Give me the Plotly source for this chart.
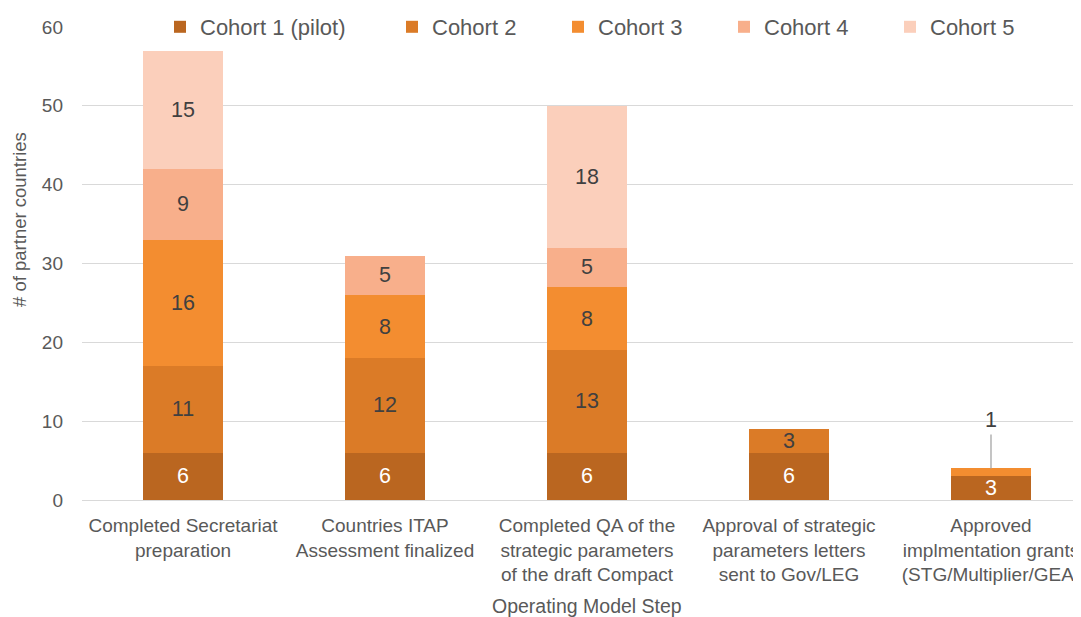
import plotly.graph_objects as go

categories = [
    "Completed Secretariat<br>preparation",
    "Countries ITAP<br>Assessment finalized",
    "Completed QA of the<br>strategic parameters<br>of the draft Compact",
    "Approval of strategic<br>parameters letters<br>sent to Gov/LEG",
    "Approved<br>implmentation grants<br>(STG/Multiplier/GEA)",
]
series_names = ["Cohort 1 (pilot)", "Cohort 2", "Cohort 3", "Cohort 4", "Cohort 5"]
cohort1 = [6, 6, 6, 6, 3]
cohort2 = [11, 12, 13, 3, 0]
cohort3 = [16, 8, 8, 0, 1]
cohort4 = [9, 5, 5, 0, 0]
cohort5 = [15, 0, 18, 0, 0]
y_ticks = [0, 10, 20, 30, 40, 50, 60]

colors = ["#BA6620", "#DB7B27", "#F38D30", "#F8AF8B", "#FBCFBB"]
label_colors = ["#FFFFFF", "#404040", "#404040", "#404040", "#404040"]
FONT = "Liberation Sans"
GRAY = "#595959"

# the page body has an 8px default margin, so the figure is sized to fit the window
W, H = 1073, 609
L, T, B = 74, 19, 117
plot_w = W - L

xs = list(range(len(categories)))
all_series = [cohort1, cohort2, cohort3, cohort4, cohort5]
legend_ids = ["legend", "legend2", "legend2", "legend2", "legend2"]

fig = go.Figure()
for name, vals, col, lc, lg in zip(series_names, all_series, colors, label_colors, legend_ids):
    texts = []
    for v in vals:
        # zeros hidden; the value 1 on the last bar is shown as a callout
        if v == 0 or v == 1:
            texts.append("")
        else:
            texts.append(str(v))
    fig.add_trace(go.Bar(
        x=xs, y=vals, name=name, marker=dict(color=col, line=dict(width=0)),
        width=0.4, text=texts, textposition="inside", insidetextanchor="middle",
        textangle=0, textfont=dict(size=21.5, color=lc, family=FONT),
        constraintext="none", hoverinfo="skip", legend=lg,
    ))

# callout for the value 1 on the last bar
callout_x = 4
callout_val = cohort3[4]
base = cohort1[4] + cohort2[4]
fig.add_annotation(
    x=callout_x, y=base + callout_val, xref="x", yref="y",
    text=str(callout_val), showarrow=True, arrowhead=0, arrowwidth=1.3,
    arrowcolor="#A6A6A6", ax=0, ay=-34, yanchor="bottom",
    font=dict(size=21.5, color="#404040", family=FONT),
)

plot_h = H - T - B
fig.add_annotation(
    x=2, y=-(598 - (H - B)) / plot_h, xref="x", yref="paper", text="Operating Model Step",
    showarrow=False, font=dict(size=19.5, color=GRAY, family=FONT), yanchor="middle",
)
fig.add_annotation(
    x=(12 - L) / plot_w, y=((H - B) - 212) / plot_h, xref="paper", yref="paper",
    text="# of partner countries",
    showarrow=False, textangle=-90, font=dict(size=18.5, color=GRAY, family=FONT),
    xanchor="center", yanchor="middle",
)

legend_common = dict(
    orientation="h", yref="container", y=1 - T / H, yanchor="middle",
    xanchor="left", bgcolor="rgba(0,0,0,0)",
    font=dict(size=22, color=GRAY, family=FONT), itemwidth=30,
    traceorder="normal", itemclick=False, itemdoubleclick=False,
)

fig.update_layout(
    width=W, height=H,
    barmode="stack",
    margin=dict(l=L, r=0, t=T, b=B, autoexpand=False),
    plot_bgcolor="white", paper_bgcolor="white",
    uniformtext=dict(minsize=21.5, mode="show"),
    font=dict(family=FONT, color=GRAY, size=18),
    legend=dict(x=(152 - L) / plot_w, **legend_common),
    legend2=dict(x=(384 - L) / plot_w, entrywidth=121, **legend_common),
    showlegend=True,
)
fig.update_xaxes(
    range=[-0.5, -0.5 + plot_w / 202], tickvals=xs, ticktext=categories,
    showgrid=False, zeroline=False, showline=False, ticks="", automargin=False,
    tickfont=dict(size=19, color=GRAY, family=FONT), ticklabelstandoff=12,
)
fig.update_yaxes(
    range=[0, 60], tickvals=y_ticks, showgrid=True, gridcolor="#D9D9D9",
    gridwidth=1.3, zeroline=True, zerolinecolor="#D9D9D9", zerolinewidth=1.3,
    tickfont=dict(size=19, color=GRAY, family=FONT), ticks="", automargin=False,
    ticklabelstandoff=18,
)

fig.write_html("out.html")
